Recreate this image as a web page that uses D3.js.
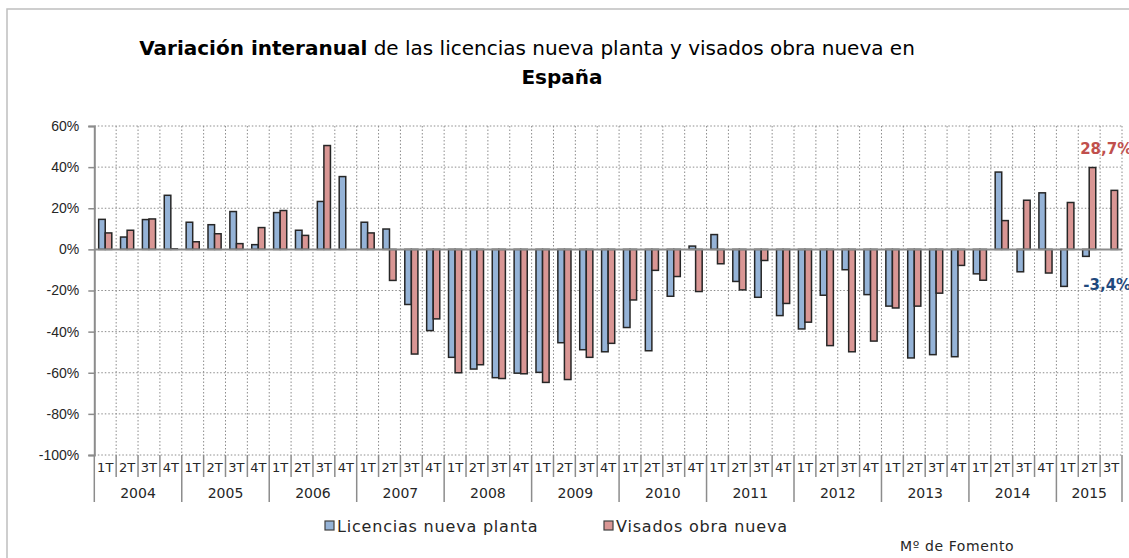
<!DOCTYPE html>
<html>
<head>
<meta charset="utf-8">
<script src="https://cdn.jsdelivr.net/npm/d3@7"></script>
<style>
  body { margin: 0; background: #fff; }
  svg { display: block; font-family: "Century Gothic", "DejaVu Sans", sans-serif; }
  .ytick text { font-size: 14px; fill: #262626; }
</style>
</head>
<body>
<script>
// quarters / years
var years = ["2004","2005","2006","2007","2008","2009","2010","2011","2012","2013","2014","2015"];
var quarterNames = ["1T","2T","3T","4T"];
var quarterCount = [4,4,4,4,4,4,4,4,4,4,4,3];

// series values (% interanual)
var licencias = [14.6, 6.0, 14.5, 26.3,   13.2, 12.0, 18.4, 2.3,
                 17.9, 9.3, 23.3, 35.4,   13.2, 9.9, -26.8, -39.5,
                 -52.5, -58.2, -62.4, -60.2,  -59.8, -45.4, -48.8, -49.8,
                 -38.0, -49.3, -22.8, 1.6,  7.2, -15.6, -23.3, -32.2,
                 -38.7, -22.3, -9.9, -22.0,  -27.6, -52.8, -51.2, -52.2,
                 -11.9, 37.6, -10.9, 27.5,  -18.0, -3.4, null];
var visados =   [8.0, 9.3, 14.8, 0.3,   3.7, 7.6, 2.8, 10.6,
                 18.9, 6.8, 50.5, 0,   8.0, -15.1, -50.9, -33.8,
                 -60.0, -56.1, -62.8, -60.5,  -64.7, -63.3, -52.5, -45.7,
                 -24.6, -10.2, -13.2, -20.5,  -7.0, -19.7, -5.4, -26.3,
                 -35.4, -46.8, -49.8, -44.6,  -28.5, -27.6, -21.3, -7.8,
                 -15.0, 14.0, 23.9, -11.5,  22.8, 39.8, 28.7];
var yTicks = [60, 40, 20, 0, -20, -40, -60, -80, -100];
var seriesNames = ["Licencias nueva planta", "Visados obra nueva"];
var seriesColors = ["#95B3D7", "#D99694"];

// build category list
var cats = [];
years.forEach(function(yr, i){
  for (var q = 0; q < quarterCount[i]; q++) {
    cats.push({ id: yr + "-" + quarterNames[q], year: yr, q: quarterNames[q] });
  }
});
cats.forEach(function(c, i){ c.lic = licencias[i]; c.vis = visados[i]; });

var w = 1129, h = 558;
var plotLeft = 94.3, plotRight = 1122, plotTop = 126, plotBottom = 455;

var svg = d3.select("body").append("svg")
  .attr("width", w)
  .attr("height", h);

// chart frame
svg.append("rect")
  .attr("x", 7).attr("y", 9)
  .attr("width", w + 20).attr("height", h + 20)
  .attr("fill", "#fff")
  .attr("stroke", "#BFBFBF")
  .attr("stroke-width", 1.5);

var x = d3.scaleBand()
  .domain(cats.map(function(d){ return d.id; }))
  .range([plotLeft, plotRight]);
var bw = x.bandwidth();

var xSub = d3.scaleBand()
  .domain(["lic", "vis"])
  .range([bw * 0.2, bw * 0.8]);

var y = d3.scaleLinear()
  .domain([-100, 60])
  .range([plotBottom, plotTop]);

// title
var title = svg.append("text")
  .attr("x", 527).attr("y", 55)
  .attr("text-anchor", "middle")
  .style("font-size", "20px")
  .attr("fill", "#000");
title.append("tspan").style("font-weight", "bold").text("Variación interanual");
title.append("tspan").text(" de las licencias nueva planta y visados obra nueva en");
svg.append("text")
  .attr("x", 562).attr("y", 84)
  .attr("text-anchor", "middle")
  .style("font-size", "20px")
  .style("font-weight", "bold")
  .text("España");

// horizontal grid (dotted)
svg.append("g").selectAll("line")
  .data(yTicks.filter(function(d){ return d !== 0; }))
  .enter().append("line")
  .attr("x1", plotLeft).attr("x2", plotRight)
  .attr("y1", function(d){ return y(d); })
  .attr("y2", function(d){ return y(d); })
  .attr("stroke", "#8C8C8C")
  .attr("stroke-width", 1)
  .attr("stroke-dasharray", "1.5,2");

// vertical grid (dotted) at each quarter boundary
svg.append("g").selectAll("line")
  .data(cats.slice(1).concat([null]))
  .enter().append("line")
  .attr("x1", function(d){ return d ? x(d.id) : plotRight; })
  .attr("x2", function(d){ return d ? x(d.id) : plotRight; })
  .attr("y1", plotTop).attr("y2", plotBottom)
  .attr("stroke", "#8C8C8C")
  .attr("stroke-width", 1)
  .attr("stroke-dasharray", "1.5,2");

// y axis
var yAxis = d3.axisLeft(y)
  .tickValues(yTicks)
  .tickFormat(function(d){ return d + "%"; })
  .tickSize(6)
  .tickPadding(9);
var yg = svg.append("g")
  .attr("class", "ytick")
  .attr("transform", "translate(" + plotLeft + ",0)")
  .call(yAxis);
yg.select(".domain").attr("stroke", "#8C8C8C").attr("stroke-width", 2);
yg.selectAll(".tick line").attr("stroke", "#8C8C8C").attr("stroke-width", 1.5);

// bars
var groups = svg.append("g").selectAll("g")
  .data(cats)
  .enter().append("g")
  .attr("transform", function(d){ return "translate(" + x(d.id) + ",0)"; });

groups.selectAll("rect")
  .data(function(d){
    return [{ k: "lic", v: d.lic, c: seriesColors[0] }, { k: "vis", v: d.vis, c: seriesColors[1] }]
      .filter(function(e){ return e.v !== null && e.v !== 0; });
  })
  .enter().append("rect")
  .attr("x", function(d){ return xSub(d.k); })
  .attr("width", xSub.bandwidth())
  .attr("y", function(d){ return y(Math.max(0, d.v)); })
  .attr("height", function(d){ return Math.abs(y(d.v) - y(0)); })
  .attr("fill", function(d){ return d.c; })
  .attr("stroke", "#262626")
  .attr("stroke-width", 1.5);

// zero line
svg.append("line")
  .attr("x1", plotLeft).attr("x2", plotRight)
  .attr("y1", y(0)).attr("y2", y(0))
  .attr("stroke", "#8C8C8C")
  .attr("stroke-width", 2);

// category axis at the bottom: quarter and year separators
var sep = svg.append("g");
sep.selectAll(".qsep")
  .data(cats)
  .enter().append("line")
  .attr("class", "qsep")
  .attr("x1", function(d){ return x(d.id); })
  .attr("x2", function(d){ return x(d.id); })
  .attr("y1", plotBottom)
  .attr("y2", function(d){ return d.q === "1T" ? plotBottom + 47 : plotBottom + 22; })
  .attr("stroke", "#8C8C8C")
  .attr("stroke-width", 1.5);
sep.append("line")
  .attr("x1", plotRight).attr("x2", plotRight)
  .attr("y1", plotBottom).attr("y2", plotBottom + 47)
  .attr("stroke", "#8C8C8C")
  .attr("stroke-width", 1.5);

svg.append("g").selectAll("text")
  .data(cats)
  .enter().append("text")
  .attr("x", function(d){ return x(d.id) + bw / 2; })
  .attr("y", plotBottom + 17)
  .attr("text-anchor", "middle")
  .style("font-size", "13px")
  .attr("fill", "#262626")
  .text(function(d){ return d.q; });

svg.append("g").selectAll("text")
  .data(years)
  .enter().append("text")
  .attr("x", function(d){
    var yc = cats.filter(function(c){ return c.year === d; });
    return (x(yc[0].id) + x(yc[yc.length - 1].id) + bw) / 2;
  })
  .attr("y", plotBottom + 43)
  .attr("text-anchor", "middle")
  .style("font-size", "14px")
  .attr("fill", "#262626")
  .text(function(d){ return d; });

// data labels for the last quarters
var last = cats[cats.length - 1], prev = cats[cats.length - 2];
svg.append("text")
  .attr("x", x(last.id) - 20)
  .attr("y", y(last.vis) - 36)
  .style("font-size", "15px")
  .style("font-weight", "bold")
  .attr("fill", "#C0504D")
  .text("28,7%");
svg.append("text")
  .attr("x", x(prev.id) + 5)
  .attr("y", y(prev.lic) + 34)
  .style("font-size", "15px")
  .style("font-weight", "bold")
  .attr("fill", "#1F497D")
  .text("-3,4%");

// legend
var legend = svg.append("g").attr("transform", "translate(0,526)");
var lx = [325, 604];
seriesNames.forEach(function(name, i){
  legend.append("rect")
    .attr("x", lx[i]).attr("y", -5)
    .attr("width", 9).attr("height", 9)
    .attr("fill", seriesColors[i])
    .attr("stroke", "#404040")
    .attr("stroke-width", 1.2);
  legend.append("text")
    .attr("x", lx[i] + 12).attr("y", 6)
    .style("font-size", "16px")
    .style("letter-spacing", "0.8px")
    .attr("fill", "#262626")
    .text(name);
});

svg.append("text")
  .attr("x", 900).attr("y", 551)
  .style("font-size", "14px")
  .style("letter-spacing", "0.6px")
  .attr("fill", "#262626")
  .text("Mº  de Fomento");
</script>
</body>
</html>
